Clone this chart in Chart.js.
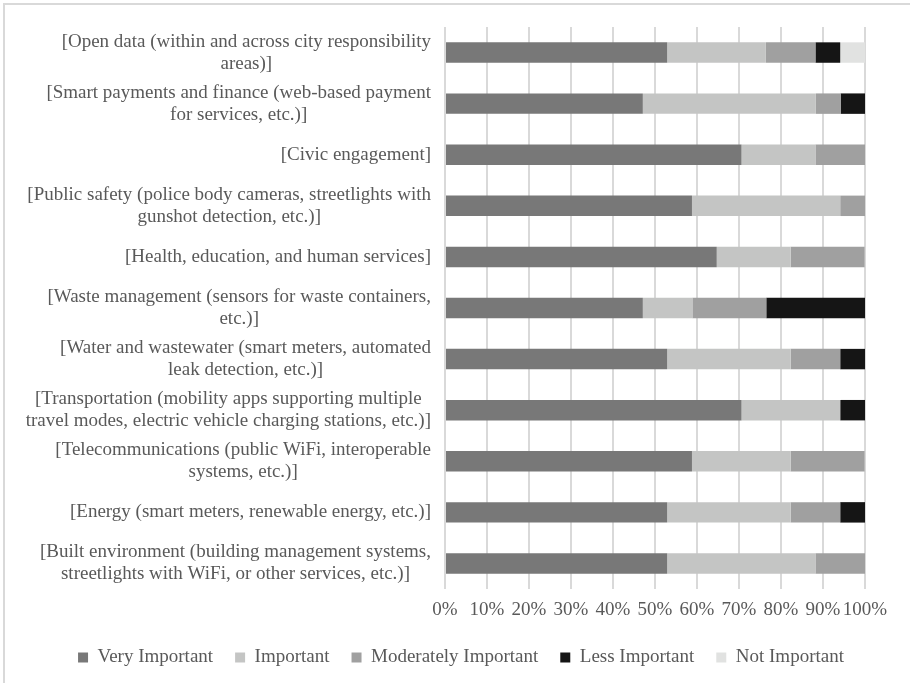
<!DOCTYPE html>
<html>
<head>
<meta charset="utf-8">
<script src="https://cdn.jsdelivr.net/npm/chart.js@4.4.1/dist/chart.umd.min.js"></script>
<style>
  html, body { margin: 0; padding: 0; background: #fff; overflow: hidden; }
  #frame { position: absolute; left: 3px; top: 3px; width: 1000px; height: 1000px;
           border-left: 2px solid #d9d9d9; border-top: 2px solid #d9d9d9; z-index: 0; }
  #wrap { position: absolute; left: 0; top: 0; width: 910px; height: 683px; z-index: 1; }
</style>
</head>
<body>
<div id="frame"></div>
<div id="wrap"><canvas id="chart" width="910" height="683"></canvas></div>
<script>
// categories, top to bottom (each entry is the lines of the label)
var categories = [
  ["[Open data (within and across city responsibility", "areas)]"],
  ["[Smart payments and finance (web-based payment", "for services, etc.)]"],
  ["[Civic engagement]"],
  ["[Public safety (police body cameras, streetlights with", "gunshot detection, etc.)]"],
  ["[Health, education, and human services]"],
  ["[Waste management (sensors for waste containers,", "etc.)]"],
  ["[Water and wastewater (smart meters, automated", "leak detection, etc.)]"],
  ["[Transportation (mobility apps supporting multiple", "travel modes, electric vehicle charging stations, etc.)]"],
  ["[Telecommunications (public WiFi, interoperable", "systems, etc.)]"],
  ["[Energy (smart meters, renewable energy, etc.)]"],
  ["[Built environment (building management systems,", "streetlights with WiFi, or other services, etc.)]"]
];

// percent of respondents
var veryImportant       = [52.9, 47.1, 70.6, 58.8, 64.7, 47.1, 52.9, 70.6, 58.8, 52.9, 52.9];
var important           = [23.5, 41.2, 17.6, 35.3, 17.6, 11.8, 29.4, 23.5, 23.5, 29.4, 35.3];
var moderatelyImportant = [11.8,  5.9, 11.8,  5.9, 17.6, 17.6, 11.8,  0.0, 17.6, 11.8, 11.8];
var lessImportant       = [ 5.9,  5.9,  0.0,  0.0,  0.0, 23.5,  5.9,  5.9,  0.0,  5.9,  0.0];
var notImportant        = [ 5.9,  0.0,  0.0,  0.0,  0.0,  0.0,  0.0,  0.0,  0.0,  0.0,  0.0];

var xTicks = [0, 10, 20, 30, 40, 50, 60, 70, 80, 90, 100];

var FONT = "'Liberation Serif', 'Times New Roman', serif";
var TEXT = "#595959";

// draws the wrapped category labels: block right-aligned, lines centred to each other
var catLabels = {
  id: "catLabels",
  afterDraw: function(chart) {
    var ctx = chart.ctx;
    var y = chart.scales.y;
    var right = 431, lh = 22;
    ctx.save();
    ctx.font = "19px " + FONT;
    ctx.fillStyle = TEXT;
    ctx.textAlign = "center";
    ctx.textBaseline = "middle";
    categories.forEach(function(lines, i) {
      var w = 0;
      lines.forEach(function(l) { w = Math.max(w, ctx.measureText(l).width); });
      var cx = right - w / 2;
      var cy = y.getPixelForValue(i);
      var y0 = cy - (lines.length - 1) * lh / 2;
      lines.forEach(function(l, k) { ctx.fillText(l, cx, y0 + k * lh); });
    });
    ctx.restore();
  }
};

function ds(label, data, color) {
  return { label: label, data: data, backgroundColor: color, borderWidth: 0,
           barPercentage: 0.4, categoryPercentage: 1.0 };
}

new Chart(document.getElementById("chart"), {
  type: "bar",
  data: {
    labels: categories,
    datasets: [
      ds("Very Important", veryImportant, "#787878"),
      ds("Important", important, "#c4c5c4"),
      ds("Moderately Important", moderatelyImportant, "#a0a0a0"),
      ds("Less Important", lessImportant, "#151515"),
      ds("Not Important", notImportant, "#e1e2e1")
    ]
  },
  options: {
    indexAxis: "y",
    responsive: false,
    animation: false,
    layout: { padding: { top: 27, right: 0, bottom: 6, left: 12 } },
    scales: {
      x: {
        stacked: true,
        min: 0,
        max: 100,
        afterBuildTicks: function(scale) {
          scale.ticks = xTicks.map(function(v) { return { value: v }; });
        },
        afterFit: function(scale) { scale.height = 37; },
        ticks: {
          autoSkip: false,
          maxRotation: 0,
          padding: 10,
          color: TEXT,
          font: { family: FONT, size: 19 },
          callback: function(v) { return v + "%"; }
        },
        grid: { color: "#d9d9d9", lineWidth: 2, drawTicks: false },
        border: { display: false }
      },
      y: {
        stacked: true,
        afterFit: function(scale) { scale.width = 433; },
        ticks: { display: false },
        grid: { display: false },
        border: { display: false }
      },
      yRight: {
        type: "category",
        position: "right",
        afterFit: function(scale) { scale.width = 45; },
        ticks: { display: false },
        grid: { display: false },
        border: { display: false }
      }
    },
    plugins: {
      legend: {
        position: "bottom",
        labels: {
          boxWidth: 10,
          boxHeight: 10,
          padding: 22,
          color: TEXT,
          font: { family: FONT, size: 19 }
        }
      },
      tooltip: { enabled: false }
    }
  },
  plugins: [catLabels]
});
</script>
</body>
</html>
